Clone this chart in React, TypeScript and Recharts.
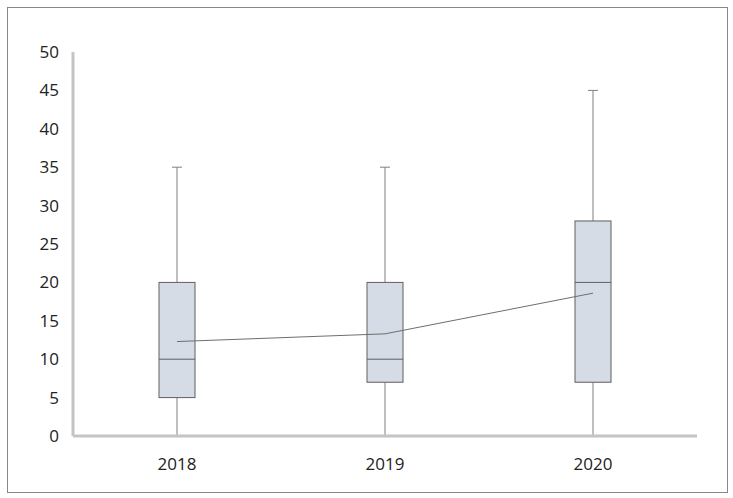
import React from 'react';
import { ComposedChart, Bar, Line, XAxis, YAxis } from 'recharts';

const years = ['2018', '2019', '2020'];
const minValues = [0, 0, 0];
const q1Values = [5, 7, 7];
const medianValues = [10, 10, 20];
const q3Values = [20, 20, 28];
const maxValues = [35, 35, 45];
const meanValues = [12.3, 13.3, 18.6];
const yTicks = [0, 5, 10, 15, 20, 25, 30, 35, 40, 45, 50];

const data = years.map((year, i) => ({
  year,
  box: [q1Values[i], q3Values[i]],
  min: minValues[i],
  median: medianValues[i],
  max: maxValues[i],
  mean: meanValues[i],
}));

// draws box + median + whiskers; pixel per unit taken from the bar's own scaled height
const BoxShape = (props: any) => {
  const { x, y, width, height, payload } = props;
  const [q1, q3] = payload.box;
  const k = height / (q3 - q1);
  const toY = (v: number) => y + (q3 - v) * k;
  const cx = x + width / 2;
  const cap = 5;
  return (
    <g>
      <line x1={cx} x2={cx} y1={toY(payload.max)} y2={y} stroke="#7f7f7f" strokeWidth={1} />
      <line x1={cx - cap} x2={cx + cap} y1={toY(payload.max)} y2={toY(payload.max)} stroke="#7f7f7f" strokeWidth={1} />
      <line x1={cx} x2={cx} y1={y + height} y2={toY(payload.min)} stroke="#7f7f7f" strokeWidth={1} />
      <rect x={x} y={y} width={width} height={height} fill="#d6dce5" stroke="#5f5f5f" strokeWidth={1} />
      <line x1={x} x2={x + width} y1={toY(payload.median)} y2={toY(payload.median)} stroke="#5f5f5f" strokeWidth={1} />
    </g>
  );
};

const App: React.FC = () => {
  return (
    <div
      style={{
        position: 'absolute',
        left: 7,
        top: 7,
        width: 719,
        height: 484,
        border: '1px solid #888',
        background: '#fff',
        fontFamily: '"Open Sans", sans-serif',
      }}
    >
      <ComposedChart width={719} height={484} data={data} margin={{ top: 44, right: 30, bottom: 14, left: 5 }}>
        <XAxis
          dataKey="year"
          axisLine={{ stroke: '#c4c4c4', strokeWidth: 3 }}
          tickLine={false}
          tickMargin={16}
          height={42}
          tick={{ fill: '#222', fontSize: 17 }}
        />
        <YAxis
          domain={[0, 50]}
          ticks={yTicks}
          interval={0}
          axisLine={{ stroke: '#c4c4c4', strokeWidth: 3 }}
          tickLine={false}
          tickMargin={8}
          width={60}
          tick={{ fill: '#222', fontSize: 17 }}
        />
        <Bar dataKey="box" barSize={36} shape={BoxShape} isAnimationActive={false} />
        <Line
          type="linear"
          dataKey="mean"
          stroke="#6e6e6e"
          strokeWidth={1}
          dot={false}
          activeDot={false}
          isAnimationActive={false}
        />
      </ComposedChart>
    </div>
  );
};

export default App;
